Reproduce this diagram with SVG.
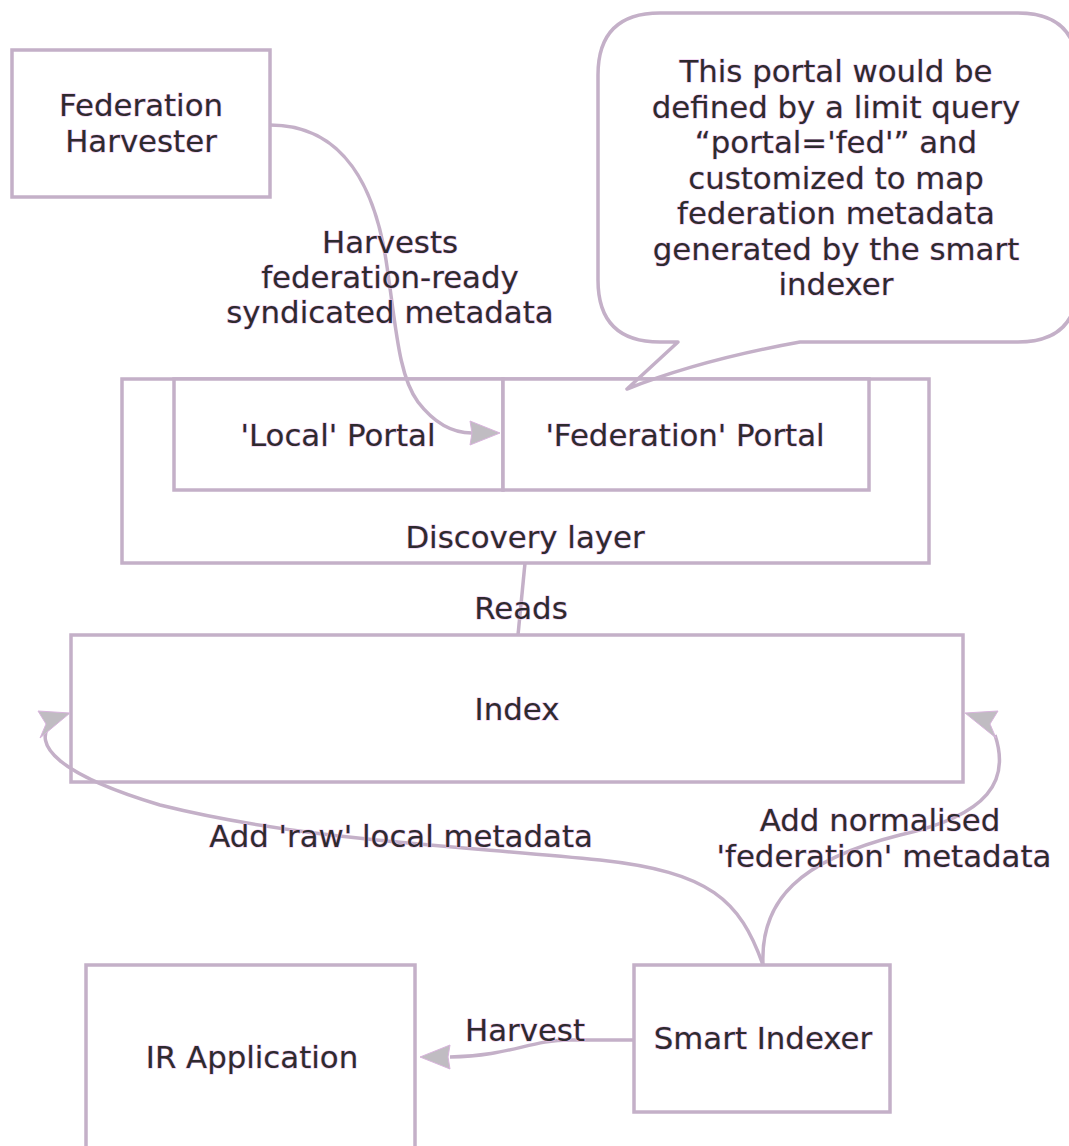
<svg xmlns="http://www.w3.org/2000/svg" width="1069" height="1146" viewBox="0 0 1069 1146">
<style>
  .box { fill: #ffffff; stroke: #c4b0c8; stroke-width: 3.5; }
  .outline { fill: none; stroke: #c4b0c8; stroke-width: 3.5; stroke-linejoin: round; }
  .line { fill: none; stroke: #c4b0c8; stroke-width: 3.5; }
  .head { fill: #c0bcc2; stroke: #d8b4dc; stroke-width: 1; }
  text { font-family: "DejaVu Sans", "Liberation Sans", sans-serif; font-size: 30.8px; fill: #2e2a2e; text-anchor: middle; paint-order: stroke; stroke: #ecc4ee; stroke-width: 1.2; }
</style>
<rect width="1069" height="1146" fill="#ffffff"/>

<g id="federation-harvester">
  <rect class="box" x="12" y="50" width="258" height="147"/>
  <text x="141" y="116">Federation</text>
  <text x="141" y="152">Harvester</text>
</g>

<g id="discovery-layer">
  <rect class="box" x="122" y="379" width="807" height="184"/>
  <text x="525" y="548">Discovery layer</text>
</g>

<g id="local-portal">
  <rect class="box" x="174" y="379" width="329" height="111"/>
  <text x="338" y="446">'Local' Portal</text>
</g>

<g id="federation-portal">
  <rect class="box" x="503" y="379" width="366" height="111"/>
  <text x="685" y="446">'Federation' Portal</text>
</g>

<g id="note">
  <path class="outline" d="M 678,342 L 627,389 Q 700,360 800,342 L 1018,342 Q 1078,342 1078,282 L 1078,73 Q 1078,13 1018,13 L 660,13 Q 598,13 598,75 L 598,280 Q 598,342 660,342 Z"/>
  <text x="836" y="82">This portal would be</text>
  <text x="836" y="117.5">defined by a limit query</text>
  <text x="836" y="153">“portal='fed'” and</text>
  <text x="836" y="188.5">customized to map</text>
  <text x="836" y="224">federation metadata</text>
  <text x="836" y="259.5">generated by the smart</text>
  <text x="836" y="295">indexer</text>
</g>

<g id="index">
  <rect class="box" x="71" y="635" width="892" height="147"/>
  <text x="517" y="720">Index</text>
</g>

<g id="ir-application">
  <rect class="box" x="86" y="965" width="329" height="190"/>
  <text x="252" y="1068">IR Application</text>
</g>

<g id="smart-indexer">
  <rect class="box" x="634" y="965" width="256" height="147"/>
  <text x="763" y="1049">Smart Indexer</text>
</g>

<g id="connectors">
  <path class="line" d="M 270,125 C 345,125 375,190 386,260 C 396,325 398,375 418,402 C 438,428 458,433 472,433"/>
  <polygon class="head" points="500,433 470,421 472,433 470,445"/>

  <path class="line" d="M 525,563 L 518,635"/>

  <path class="line" d="M 763,965 C 740,900 710,872 600,860 C 450,845 300,840 160,805 C 60,775 30,745 52,722"/>
  <polygon class="head" points="70,713 38,711 46,724 40,738"/>

  <path class="line" d="M 763,965 C 760,900 800,860 900,835 C 990,815 1010,780 995,735"/>
  <polygon class="head" points="965,713 998,711 990,724 996,738"/>

  <path class="line" d="M 634,1040 L 570,1040 C 530,1040 510,1056 450,1057"/>
  <polygon class="head" points="420,1057 450,1045 448,1057 450,1069"/>
</g>

<g id="labels">
  <text x="390" y="253">Harvests</text>
  <text x="390" y="288">federation-ready</text>
  <text x="390" y="323">syndicated metadata</text>
  <text x="521" y="619">Reads</text>
  <text x="401" y="847">Add 'raw' local metadata</text>
  <text x="880" y="831">Add normalised</text>
  <text x="884" y="867">'federation' metadata</text>
  <text x="525" y="1041">Harvest</text>
</g>
</svg>
